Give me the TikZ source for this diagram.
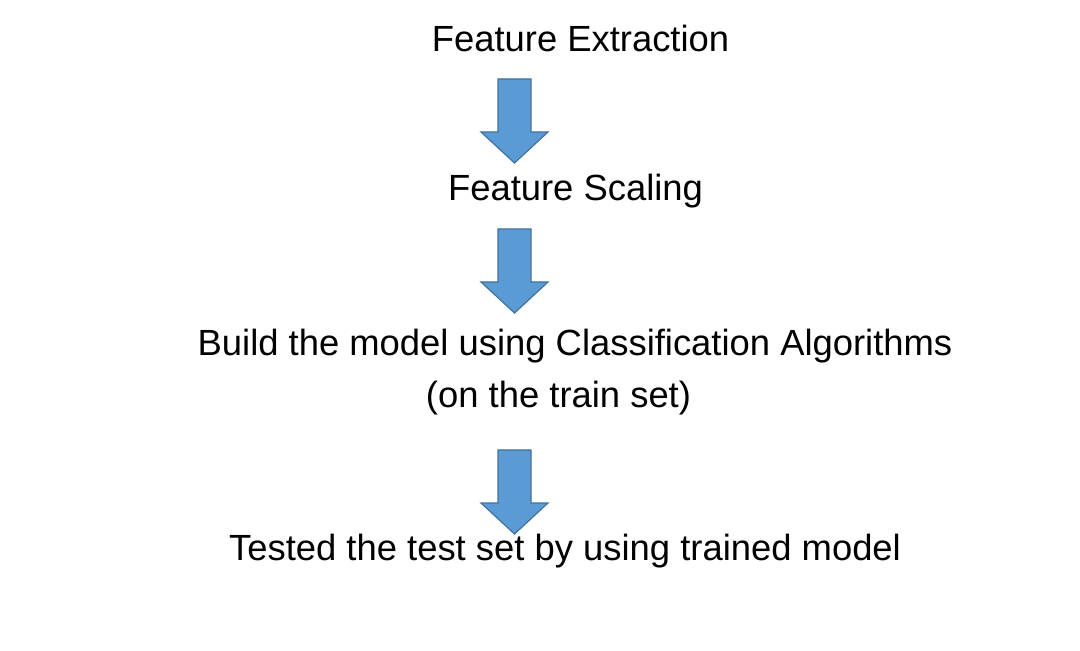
\documentclass[tikz,border=0pt]{standalone}
\usepackage{fontspec}
\setmainfont{Liberation Sans}
\usetikzlibrary{positioning}

\definecolor{arrowfill}{HTML}{5B9BD5}
\definecolor{arrowline}{HTML}{41719C}

\begin{document}
\begin{tikzpicture}[x=0.5pt, y=-0.5pt,
  step text/.style={font=\fontsize{18.2}{22}\selectfont, align=center, inner sep=0pt},
  blockarrow/.style={fill=arrowfill, draw=arrowline, line width=0.6pt, line join=miter}]

\useasboundingbox (0,0) rectangle (1080,651);

\node[step text] (extract) at (580.5,38)  {Feature Extraction};
\node[step text] (scale)   at (575.5,191) {Feature Scaling};
\node[step text] (build)   at (575,346)   {Build the model using Classification Algorithms};
\node[step text] (trainset) at (558.5,398) {(on the train set)};
\node[step text] (test)    at (565,551)   {Tested the test set by using trained model};

% block arrows between the steps
\foreach \t in {79,229,450}{
  \draw[blockarrow] (498,\t) -- (531,\t) -- (531,\t+53) -- (548,\t+53)
    -- (514.5,\t+84) -- (481,\t+53) -- (498,\t+53) -- cycle;
}

\end{tikzpicture}
\end{document}
